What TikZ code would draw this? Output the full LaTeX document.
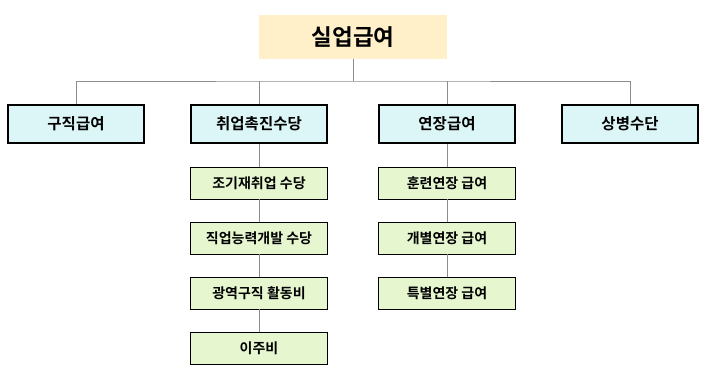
\documentclass[tikz,border=0pt]{standalone}
\usepackage{fontspec}
\setmainfont{Noto Sans CJK KR}[BoldFont={Noto Sans CJK KR Bold}]
\definecolor{topfill}{HTML}{FFF0C9}
\definecolor{midfill}{HTML}{DCF6F8}
\definecolor{lowfill}{HTML}{E6F7D0}
\definecolor{linegray}{HTML}{8C8C8C}
\tikzset{
  topbox/.style={fill=topfill, minimum width=188pt, minimum height=44pt, inner sep=0pt, font=\fontsize{22.5}{26}\selectfont\bfseries},
  midbox/.style={draw=black, line width=2.3pt, fill=midfill, minimum width=136pt, minimum height=38pt, inner sep=0pt, font=\fontsize{15.5}{18}\selectfont\bfseries},
  lowbox/.style={draw=black, line width=0.9pt, fill=lowfill, minimum width=137pt, minimum height=32pt, inner sep=0pt, font=\fontsize{14}{17}\selectfont\bfseries},
  conn/.style={draw=linegray, line width=1pt}
}
\begin{document}
\begin{tikzpicture}[x=1pt,y=-1pt]
\useasboundingbox (0,0) rectangle (706,376);
\node[topbox] (top) at (353,37) {실업급여};
\node[midbox] (a) at (76,124) {구직급여};
\node[midbox] (b) at (259,124) {취업촉진수당};
\node[midbox] (c) at (447,124) {연장급여};
\node[midbox] (d) at (630,124) {상병수단};
\node[lowbox] (b1) at (259,183) {조기재취업 수당};
\node[lowbox] (b2) at (259,238) {직업능력개발 수당};
\node[lowbox] (b3) at (259,293) {광역구직 활동비};
\node[lowbox] (b4) at (259,348) {이주비};
\node[lowbox] (c1) at (447,183) {훈련연장 급여};
\node[lowbox] (c2) at (447,238) {개별연장 급여};
\node[lowbox] (c3) at (447,293) {특별연장 급여};
\coordinate (bar) at (353,81);
\draw[conn] (top.south) -- (bar);
\draw[conn] (a.north) |- (bar) -| (d.north);
\draw[conn] (b.north) -- (b.north |- bar);
\draw[conn] (c.north) -- (c.north |- bar);
\draw[conn] (b.south) -- (b1.north);
\draw[conn] (b1.south) -- (b2.north);
\draw[conn] (b2.south) -- (b3.north);
\draw[conn] (b3.south) -- (b4.north);
\draw[conn] (c.south) -- (c1.north);
\draw[conn] (c1.south) -- (c2.north);
\draw[conn] (c2.south) -- (c3.north);
\end{tikzpicture}
\end{document}
